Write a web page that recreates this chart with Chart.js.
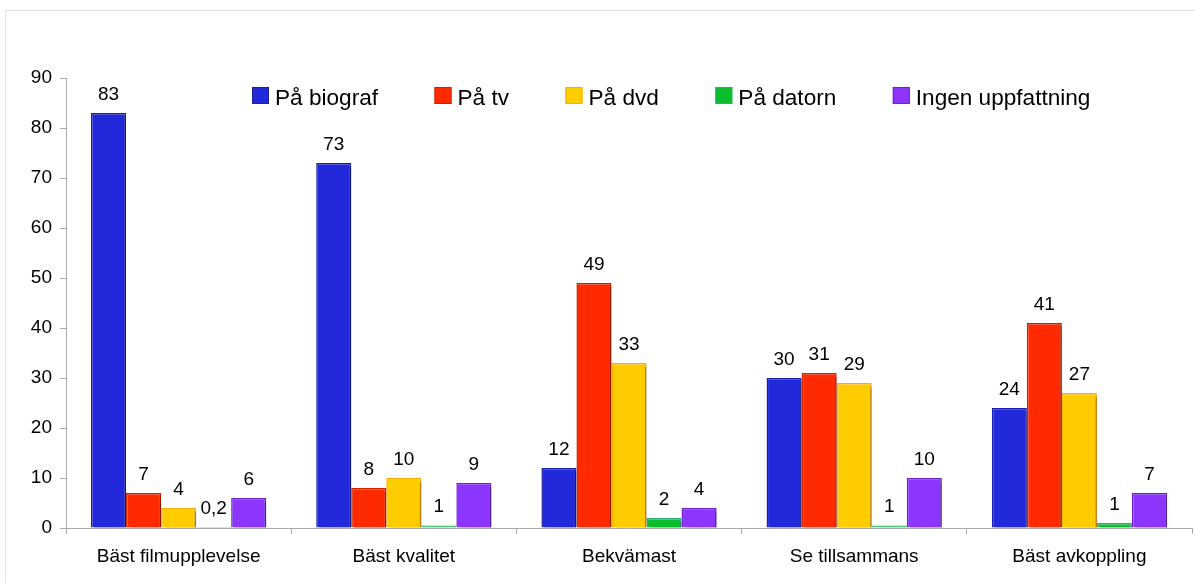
<!DOCTYPE html>
<html>
<head>
<meta charset="utf-8">
<script src="https://cdn.jsdelivr.net/npm/chart.js@4.4.1/dist/chart.umd.min.js"></script>
<style>
  html, body { margin: 0; padding: 0; background: #fff; }
  #wrap { position: relative; width: 1195px; height: 583px; }
</style>
</head>
<body>
<div id="wrap"><canvas id="grafico1"></canvas></div>
<script>
// Kategorier och värden (procent)
const categories = ['Bäst filmupplevelse', 'Bäst kvalitet', 'Bekvämast', 'Se tillsammans', 'Bäst avkoppling'];
const seriesNames = ['På biograf', 'På tv', 'På dvd', 'På datorn', 'Ingen uppfattning'];
const biograf = [83, 73, 12, 30, 24];
const tv = [7, 8, 49, 31, 41];
const dvd = [4, 10, 33, 29, 27];
const datorn = [0.2, 0.5, 2, 0.5, 1];
const ingen = [6, 9, 4, 10, 7];
const yTicks = [0, 10, 20, 30, 40, 50, 60, 70, 80, 90];

const fillColors = ['#2229DB', '#FF2A00', '#FFCC00', '#0CBE2C', '#8C35FF'];
const borderColors = ['#1A1FA8', '#CC2200', '#FFAA00', '#30A888', '#6E22CC'];
const FONT = '"Liberation Sans", Arial, sans-serif';

// Skugga bakom staplarna
const shadowPlugin = {
    id: 'barShadow',
    beforeDatasetsDraw(chart) {
        const ctx = chart.ctx;
        ctx.save();
        ctx.shadowColor = 'rgba(0,0,0,0.28)';
        ctx.shadowOffsetX = 4;
        ctx.shadowOffsetY = 3;
        ctx.shadowBlur = 0;
    },
    afterDatasetsDraw(chart) {
        chart.ctx.restore();
    }
};

// Värdeetiketter ovanför staplarna
const valueLabels = {
    id: 'valueLabels',
    afterDatasetsDraw(chart) {
        const ctx = chart.ctx;
        ctx.save();
        ctx.font = '19px ' + FONT;
        ctx.fillStyle = '#000';
        ctx.textAlign = 'center';
        ctx.textBaseline = 'alphabetic';
        chart.data.datasets.forEach((ds, i) => {
            chart.getDatasetMeta(i).data.forEach((bar, j) => {
                const v = ds.data[j];
                const txt = v >= 0.5 ? String(Math.round(v)) : String(v).replace('.', ',');
                ctx.fillText(txt, bar.x, bar.y - 13.5);
            });
        });
        ctx.restore();
    }
};

// Egen teckenförklaring inne i diagrammet
const legendPlugin = {
    id: 'ownLegend',
    afterDraw(chart) {
        const ctx = chart.ctx;
        ctx.save();
        ctx.font = '22.6px ' + FONT;
        ctx.textBaseline = 'alphabetic';
        let x = 252;
        chart.data.datasets.forEach((ds) => {
            ctx.fillStyle = ds.backgroundColor;
            ctx.fillRect(x, 87, 17, 17);
            ctx.strokeStyle = ds.borderColor;
            ctx.lineWidth = 1;
            ctx.strokeRect(x + 0.5, 87.5, 16, 16);
            ctx.fillStyle = '#000';
            ctx.fillText(ds.label, x + 23, 104.5);
            x += 23 + ctx.measureText(ds.label).width + 56.5;
        });
        ctx.restore();
    }
};

// Ram runt diagrammet
const framePlugin = {
    id: 'frame',
    beforeDraw(chart) {
        const ctx = chart.ctx;
        ctx.save();
        ctx.strokeStyle = '#e2e2e2';
        ctx.lineWidth = 1;
        ctx.strokeRect(5.5, 10.5, 1300, 700);
        ctx.restore();
    }
};

const allSeries = [biograf, tv, dvd, datorn, ingen];
const datasets = allSeries.map((vals, i) => ({
    label: seriesNames[i],
    data: vals,
    backgroundColor: fillColors[i],
    borderColor: borderColors[i],
    borderWidth: 1.5,
    categoryPercentage: 0.778,
    barPercentage: 1.0
}));

const ctx = document.getElementById('grafico1').getContext('2d');
const chartInstance = new Chart(ctx, {
    type: 'bar',
    data: { labels: categories, datasets: datasets },
    options: {
        responsive: true,
        maintainAspectRatio: false,
        animation: false,
        layout: { padding: { top: 78, right: 3, left: 0, bottom: 0 } },
        plugins: {
            legend: { display: false },
            tooltip: { enabled: false }
        },
        scales: {
            x: {
                grid: { display: true, offset: true, drawOnChartArea: false, tickLength: 6, color: '#aaa' },
                border: { color: '#aaa' },
                ticks: { color: '#000', font: { family: FONT, size: 19 }, padding: 11, maxRotation: 0 },
                afterFit: (s) => { s.height = 55; }
            },
            y: {
                min: 0,
                max: 90,
                afterBuildTicks: (s) => { s.ticks = yTicks.map(v => ({ value: v })); },
                grid: { display: true, drawOnChartArea: false, tickLength: 6, color: '#aaa' },
                border: { color: '#aaa' },
                ticks: { color: '#000', font: { family: FONT, size: 19 }, padding: 8 },
                afterFit: (s) => { s.width = 66; }
            }
        }
    },
    plugins: [framePlugin, shadowPlugin, valueLabels, legendPlugin]
});
</script>
</body>
</html>
